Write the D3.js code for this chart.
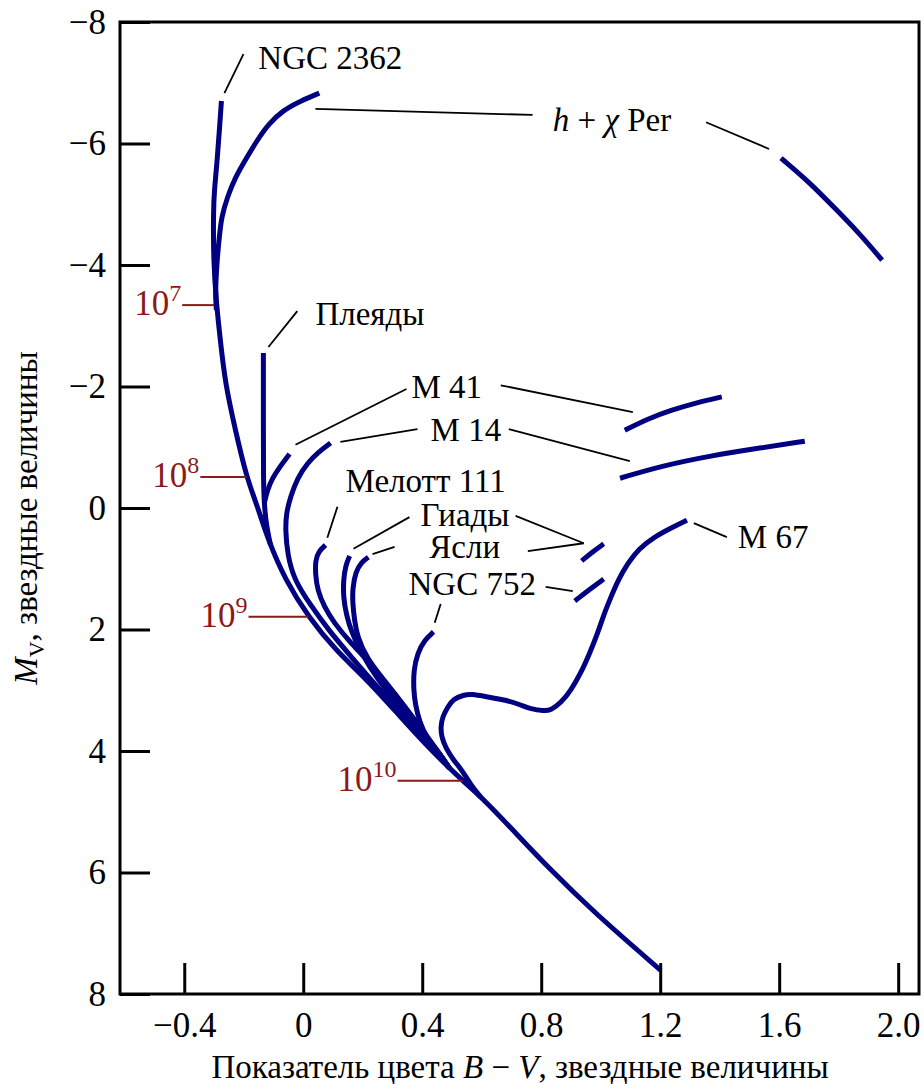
<!DOCTYPE html>
<html>
<head>
<meta charset="utf-8">
<script src="https://cdn.jsdelivr.net/npm/d3@7"></script>
<style>
  body { margin: 0; background: #fff; }
</style>
</head>
<body>
<div id="chart"></div>
<script>
// isochrones, [B-V, M_V]
var ngc2362 = [[-0.275,-6.70],[-0.282,-6.22],[-0.289,-5.73],[-0.299,-5.23],[-0.302,-4.91],[-0.302,-4.08],
  [-0.292,-3.37],[-0.279,-2.77],[-0.262,-2.04],[-0.228,-1.28],[-0.191,-0.51],[-0.154,-0.03],
  [-0.118,0.53],[-0.060,1.19],[0.017,1.79],[0.108,2.34],[0.216,2.83],[0.327,3.44],[0.438,4.03],
  [0.536,4.49],[0.610,4.81],[0.714,5.35],[0.822,5.91],[0.980,6.67],[1.202,7.61]];
var hPer = [[0.054,-6.83],[-0.009,-6.70],[-0.067,-6.55],[-0.117,-6.32],[-0.154,-6.06],[-0.191,-5.76],
  [-0.228,-5.45],[-0.255,-5.12],[-0.275,-4.79],[-0.282,-4.46],[-0.289,-4.13],[-0.296,-3.54],[-0.292,-3.26]];
var hPerGiant = [[1.606,-5.76],[1.700,-5.37],[1.784,-4.95],[1.868,-4.53],[1.946,-4.08]];
var pleiades = [[-0.134,-2.55],[-0.134,-1.45],[-0.134,-0.46],[-0.131,-0.05],[-0.124,0.28],[-0.110,0.61]];
var m41 = [[-0.046,-0.89],[-0.077,-0.69],[-0.104,-0.49],[-0.120,-0.30],[-0.131,-0.08]];
var m41Giant = [[1.081,-1.28],[1.159,-1.47],[1.236,-1.61],[1.320,-1.73],[1.407,-1.83]];
var m14 = [[0.092,-1.07],[0.051,-0.92],[0.014,-0.74],[-0.020,-0.49],[-0.043,-0.18],[-0.057,0.08],
  [-0.060,0.36],[-0.053,0.77],[-0.030,1.19],[0.025,1.60],[0.085,2.01],[0.165,2.47],[0.250,2.95],
  [0.350,3.49],[0.450,4.02],[0.491,4.28]];
var m14Giant = [[1.065,-0.49],[1.203,-0.69],[1.370,-0.86],[1.538,-0.99],[1.686,-1.10]];
var melotte111 = [[0.075,0.61],[0.051,0.72],[0.041,0.86],[0.041,1.10],[0.048,1.35],[0.071,1.63],
  [0.102,1.88],[0.159,2.22],[0.216,2.50],[0.300,3.00],[0.388,3.57],[0.462,4.07],[0.491,4.28]];
var hyades = [[0.156,0.79],[0.142,0.95],[0.135,1.19],[0.135,1.48],[0.145,1.76],[0.162,2.04],
  [0.193,2.37],[0.250,2.83],[0.327,3.29],[0.394,3.69],[0.462,4.07],[0.491,4.28]];
var praesepe = [[0.219,0.81],[0.196,0.89],[0.176,1.05],[0.166,1.32],[0.166,1.56],[0.172,1.84],
  [0.182,2.12],[0.213,2.47],[0.270,2.83],[0.344,3.29],[0.405,3.69],[0.462,4.07],[0.491,4.28]];
var hyadesGiant = [[0.936,0.87],[0.973,0.72],[1.010,0.59]];
var ngc752 = [[0.438,2.04],[0.408,2.17],[0.384,2.39],[0.371,2.67],[0.371,3.00],[0.377,3.24],
  [0.391,3.52],[0.415,3.79],[0.462,4.07],[0.491,4.28]];
var ngc752Giant = [[0.913,1.53],[0.960,1.35],[1.010,1.17]];
var m67 = [[1.290,0.20],[1.236,0.33],[1.179,0.48],[1.128,0.67],[1.091,0.91],[1.058,1.19],[1.034,1.47],
  [1.010,1.76],[0.990,2.06],[0.963,2.39],[0.933,2.72],[0.900,3.00],[0.866,3.21],[0.832,3.33],
  [0.809,3.34],[0.765,3.31],[0.731,3.24],[0.681,3.16],[0.620,3.11],[0.563,3.06],[0.539,3.08],
  [0.505,3.14],[0.485,3.28],[0.468,3.44],[0.462,3.60],[0.465,3.77],[0.479,3.95],[0.505,4.15],
  [0.536,4.33],[0.563,4.56],[0.597,4.76]];

var curves = [ngc2362, hPer, hPerGiant, pleiades, m41, m41Giant, m14, m14Giant, melotte111,
  hyades, praesepe, hyadesGiant, ngc752, ngc752Giant, m67];

// ticks
var xTicks = [-0.4, 0, 0.4, 0.8, 1.2, 1.6, 2.0];
var yTicks = [-8, -6, -4, -2, 0, 2, 4, 6, 8];

// age marks on the envelope: exponent, M_V, B-V start, B-V end
var ageMarks = [["7", -3.34, -0.407, -0.300], ["8", -0.51, -0.346, -0.191],
  ["9", 1.79, -0.184, 0.017], ["10", 4.49, 0.317, 0.536]];

// cluster names: parts [text, italic], B-V, M_V of baseline start
var labels = [
  {parts: [["NGC 2362", 0]], bv: -0.151, mv: -7.23},
  {parts: [["h", 1], [" + ", 0], ["χ", 1], [" Per", 0]], bv: 0.839, mv: -6.21},
  {parts: [["Плеяды", 0]], bv: 0.041, mv: -3.01},
  {parts: [["M 41", 0]], bv: 0.364, mv: -1.81},
  {parts: [["M 14", 0]], bv: 0.428, mv: -1.10},
  {parts: [["Мелотт 111", 0]], bv: 0.142, mv: -0.26},
  {parts: [["Гиады", 0]], bv: 0.394, mv: 0.30},
  {parts: [["Ясли", 0]], bv: 0.424, mv: 0.82},
  {parts: [["NGC 752", 0]], bv: 0.354, mv: 1.43},
  {parts: [["M 67", 0]], bv: 1.461, mv: 0.66}
];

// leader lines [bv1, mv1, bv2, mv2]
var leaders = [[-0.265,-6.83,-0.201,-7.47], [0.041,-6.57,0.771,-6.47], [1.354,-6.35,1.566,-5.91],
  [-0.117,-2.65,-0.020,-3.24], [-0.026,-1.04,0.347,-1.96], [0.664,-2.02,1.108,-1.58],
  [0.125,-1.09,0.384,-1.30], [0.691,-1.30,1.098,-0.77], [0.115,-0.02,0.081,0.49],
  [0.169,0.67,0.357,0.15], [0.714,0.13,0.943,0.58], [0.233,0.76,0.307,0.64],
  [0.755,0.71,0.943,0.58], [0.462,1.58,0.442,1.89], [0.815,1.30,0.906,1.37],
  [1.313,0.25,1.424,0.48]];

var width = 924, height = 1084;
var blue = "#000080", red = "#8b1a1a";
var serif = "'Liberation Serif'";

var svg = d3.select("#chart").append("svg")
  .attr("width", width)
  .attr("height", height);

var x = d3.scaleLinear().domain([-0.616, 2.07]).range([120, 919]);
var y = d3.scaleLinear().domain([-8, 8]).range([22, 994]);

var line = d3.line()
  .x(function(d) { return x(d[0]); })
  .y(function(d) { return y(d[1]); })
  .curve(d3.curveBasis);

// serif text, same way for every label
function txt(sel, size, color) {
  return sel.style("font-family", function() { return serif; })
    .attr("font-size", size)
    .attr("fill", color || "#000");
}

svg.append("g").selectAll("path")
  .data(curves)
  .enter().append("path")
  .attr("d", line)
  .attr("fill", "none")
  .attr("stroke", blue)
  .attr("stroke-width", 5);

// leaders
svg.append("g").selectAll("line")
  .data(leaders)
  .enter().append("line")
  .attr("x1", function(d) { return x(d[0]); })
  .attr("y1", function(d) { return y(d[1]); })
  .attr("x2", function(d) { return x(d[2]); })
  .attr("y2", function(d) { return y(d[3]); })
  .attr("stroke", "#000")
  .attr("stroke-width", 1.8);

var lab = txt(svg.append("g").selectAll("text")
  .data(labels)
  .enter().append("text")
  .attr("x", function(d) { return x(d.bv); })
  .attr("y", function(d) { return y(d.mv); }), 33);
lab.each(function(d) {
  var t = d3.select(this);
  d.parts.forEach(function(p) {
    var s = t.append("tspan").text(p[0]);
    if (p[1]) s.attr("font-style", "italic");
  });
});

// age marks
var marks = svg.append("g");
marks.selectAll("line")
  .data(ageMarks)
  .enter().append("line")
  .attr("x1", function(d) { return x(d[2]); })
  .attr("x2", function(d) { return x(d[3]); })
  .attr("y1", function(d) { return y(d[1]); })
  .attr("y2", function(d) { return y(d[1]); })
  .attr("stroke", red)
  .attr("stroke-width", 2);
var mt = txt(marks.selectAll("text")
  .data(ageMarks)
  .enter().append("text")
  .attr("x", function(d) { return x(d[2]) - 1; })
  .attr("y", function(d) { return y(d[1]) + 10; })
  .attr("text-anchor", "end"), 35, red);
mt.append("tspan").text("10");
mt.append("tspan").text(function(d) { return d[0]; })
  .attr("font-size", 24).attr("dy", -14);

// frame
svg.append("rect")
  .attr("x", x.range()[0]).attr("y", y.range()[0])
  .attr("width", x.range()[1] - x.range()[0])
  .attr("height", y.range()[1] - y.range()[0])
  .attr("fill", "none").attr("stroke", "#000").attr("stroke-width", 3);

var xAxis = svg.append("g")
  .attr("transform", "translate(0," + y.range()[1] + ")")
  .call(d3.axisBottom(x).tickValues(xTicks).tickSize(-31).tickPadding(18)
    .tickFormat(function(d) { return d === 0 ? "0" : d3.format(".1f")(d); }));
var yAxis = svg.append("g")
  .attr("transform", "translate(" + x.range()[0] + ",0)")
  .call(d3.axisLeft(y).tickValues(yTicks).tickSize(-30).tickPadding(14)
    .tickFormat(d3.format("d")));

[xAxis, yAxis].forEach(function(a) {
  a.attr("font-family", null).attr("font-size", null);
  a.select(".domain").remove();
  a.selectAll(".tick line").attr("stroke", "#000").attr("stroke-width", 3);
  txt(a.selectAll(".tick text"), 35);
});
xAxis.selectAll(".tick text").attr("dy", "0.71em");

// axis titles
var xt = txt(svg.append("text")
  .attr("x", 520).attr("y", 1078)
  .attr("text-anchor", "middle"), 33);
xt.append("tspan").text("Показатель цвета ");
xt.append("tspan").text("B").attr("font-style", "italic");
xt.append("tspan").text(" − ");
xt.append("tspan").text("V").attr("font-style", "italic");
xt.append("tspan").text(", звездные величины");

var yt = txt(svg.append("text")
  .attr("transform", "translate(37,518) rotate(-90)")
  .attr("text-anchor", "middle"), 33);
yt.append("tspan").text("M").attr("font-style", "italic");
yt.append("tspan").text("V").attr("font-size", 22).attr("dy", 7);
yt.append("tspan").text(", звездные величины").attr("dy", -7);
</script>
</body>
</html>
